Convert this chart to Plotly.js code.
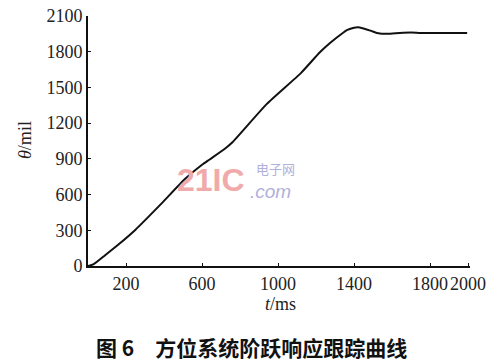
<!DOCTYPE html>
<html>
<head>
<meta charset="utf-8">
<script src="https://cdn.plot.ly/plotly-3.0.1.min.js"></script>
<style>html,body{margin:0;padding:0;background:#fff;}#chart{width:501px;height:363px;}</style>
</head>
<body>
<div id="chart"></div>
<script>
// time (ms)
var timeMs = [0, 30, 90, 160, 250, 390, 510, 600, 640, 720, 760, 940, 1120, 1220, 1275, 1330, 1365, 1400, 1420, 1450, 1490, 1520, 1575, 1640, 1700, 1750, 1850, 1995];
// azimuth angle (mil)
var thetaMil = [0, 15, 90, 180, 305, 530, 730, 850, 895, 985, 1040, 1360, 1620, 1795, 1875, 1945, 1983, 2002, 2006, 1995, 1975, 1958, 1950, 1958, 1962, 1958, 1957, 1958];
var xTicks = [200, 600, 1000, 1400, 1800, 2000];
var yTicks = [0, 300, 600, 900, 1200, 1500, 1800, 2100];
var caption = "图 6　方位系统阶跃响应跟踪曲线";

var serif = "Liberation Serif, Times New Roman, serif";
var trace = {
  x: timeMs, y: thetaMil, type: "scatter", mode: "lines",
  line: {color: "#111", width: 2, shape: "spline", smoothing: 0.5}, hoverinfo: "skip"
};
function ann(text, x, y, font, extra) {
  var a = {text: text, xref: "paper", yref: "paper", x: x, y: y,
           xanchor: "center", yanchor: "middle", showarrow: false, font: font};
  for (var k in extra) a[k] = extra[k];
  return a;
}
var layout = {
  width: 501, height: 363,
  margin: {l: 88, r: 31, t: 16, b: 97},
  paper_bgcolor: "#fff", plot_bgcolor: "#fff",
  showlegend: false,
  font: {family: serif, color: "#111"},
  xaxis: {
    range: [0, 2010], tickvals: xTicks, ticktext: xTicks.map(String),
    showline: true, linecolor: "#111", linewidth: 2, showgrid: false, zeroline: false,
    ticks: "inside", ticklen: 3, tickcolor: "#111",
    tickfont: {family: serif, size: 18, color: "#222"}
  },
  yaxis: {
    range: [0, 2100], tickvals: yTicks, ticktext: yTicks.map(String),
    showline: true, linecolor: "#111", linewidth: 2, showgrid: false, zeroline: false,
    ticks: "inside", ticklen: 3, tickcolor: "#111",
    tickfont: {family: serif, size: 18, color: "#222"}
  },
  annotations: [
    ann("<i>t</i>/ms", 0.503, -0.152, {family: serif, size: 18, color: "#222"}),
    ann("<i>θ</i>/mil", -0.165, 0.504, {family: serif, size: 18, color: "#222"}, {textangle: -90}),
    ann("<b>" + caption + "</b>", 0.429, -0.322, {family: "Noto Sans CJK SC", size: 21, color: "#111"}),
    ann("<b>21IC</b>", 0.322, 0.344, {family: "Liberation Sans Narrow, Liberation Sans, Arial", size: 32, color: "#f1aaaa"}),
    ann("电子网", 0.49, 0.39, {family: "Noto Sans CJK SC", size: 13, color: "#b0b0dc"}),
    ann("<i>.com</i>", 0.478, 0.30, {family: "Liberation Sans, Arial", size: 19, color: "#b0b0dc"})
  ]
};
Plotly.newPlot("chart", [trace], layout, {staticPlot: true, displayModeBar: false});
</script>
</body>
</html>
